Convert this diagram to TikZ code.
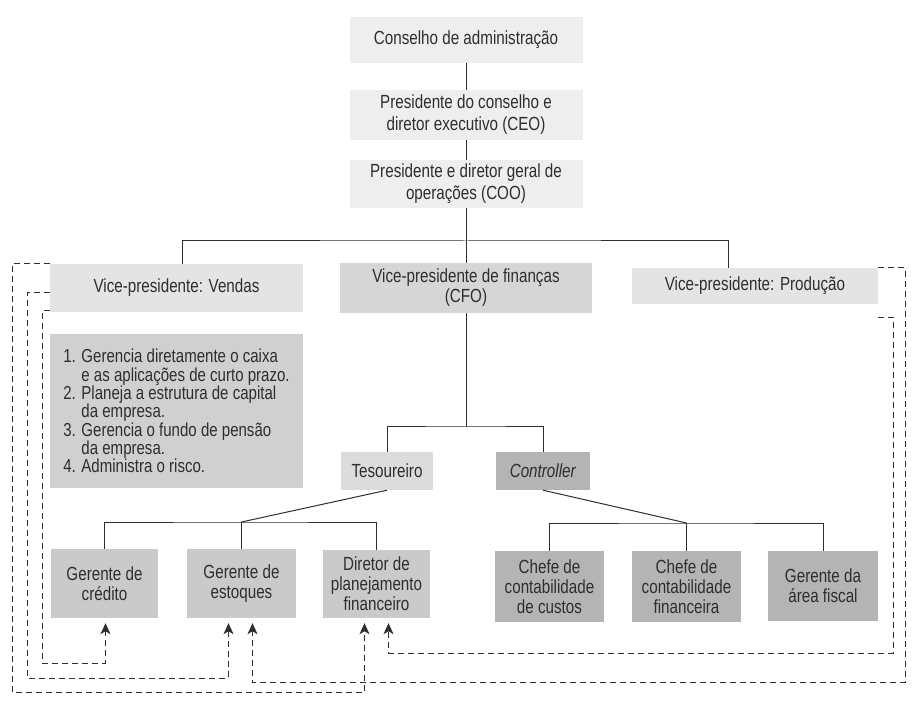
\documentclass[tikz,border=0pt]{standalone}
\usepackage{fontspec}
\setmainfont{Liberation Sans}[FakeStretch=0.8]
\usetikzlibrary{arrows.meta}
\definecolor{ink}{HTML}{2E2E2E}
\definecolor{topgray}{HTML}{EEEEEE}
\definecolor{vpgray}{HTML}{E4E4E4}
\definecolor{cfogray}{HTML}{D6D6D6}
\definecolor{listgray}{HTML}{D0D0D0}
\definecolor{tesgray}{HTML}{DCDCDC}
\definecolor{lowgray}{HTML}{CACACA}
\definecolor{ctrlgray}{HTML}{B4B4B4}
\begin{document}
\begin{tikzpicture}[x=1pt, y=-1pt,
    box/.style={fill=#1, text=ink, align=center, inner sep=0pt, font=\fontsize{19}{20}\selectfont},
    topbox/.style={box=topgray, minimum width=233, font=\fontsize{19}{22}\selectfont},
    link/.style={draw=ink, line width=1pt},
    feed/.style={draw=ink, line width=1pt, dash pattern=on 6pt off 4pt, -{Stealth[length=11pt,width=10pt,inset=3pt]}}]
        \fill[white] (0,0) rectangle (916,708);
        \useasboundingbox (0,0) rectangle (916,708);
        \node[topbox, minimum height=46] (conselho) at (466,40) {Conselho de administração};
        \node[topbox, minimum height=50] (ceo) at (466,115) {Presidente do conselho e\\diretor executivo (CEO)};
        \node[topbox, minimum height=48] (coo) at (466,184) {Presidente e diretor geral de\\operações (COO)};
        \node[box=vpgray, minimum width=253, minimum height=48] (vendas) at (176.5,288) {Vice-presidente: Vendas};
        \node[box=cfogray, minimum width=252, minimum height=50] (cfo) at (466,288) {Vice-presidente de finanças\\(CFO)};
        \node[box=vpgray, minimum width=246, minimum height=36] (producao) at (755,286) {Vice-presidente: Produção};
        \node[box=listgray, minimum width=253, minimum height=154, align=left, font=\fontsize{18.8}{18.3}\selectfont] (tarefas) at (176.5,411)
            {1. Gerencia diretamente o caixa\\\phantom{1. }e as aplicações de curto prazo.\\2. Planeja a estrutura de capital\\\phantom{1. }da empresa.\\3. Gerencia o fundo de pensão\\\phantom{1. }da empresa.\\4. Administra o risco.};
        \node[box=tesgray, minimum width=92, minimum height=38] (tesoureiro) at (387,471) {Tesoureiro};
        \node[box=ctrlgray, minimum width=94, minimum height=38] (controller) at (543,471) {\textit{Controller}};
        \node[box=lowgray, minimum width=107, minimum height=69] (credito) at (104.5,583.5) {Gerente de\\crédito};
        \node[box=lowgray, minimum width=109, minimum height=69] (estoques) at (241.5,583.5) {Gerente de\\estoques};
        \node[box=lowgray, minimum width=107, minimum height=68] (diretor) at (376.5,584) {Diretor de\\planejamento\\financeiro};
        \node[box=ctrlgray, minimum width=109, minimum height=71] (custos) at (549.5,586.5) {Chefe de\\contabilidade\\de custos};
        \node[box=ctrlgray, minimum width=109, minimum height=71] (financeira) at (686.5,586.5) {Chefe de\\contabilidade\\financeira};
        \node[box=ctrlgray, minimum width=110, minimum height=70] (fiscal) at (823,586) {Gerente da\\área fiscal};
        \coordinate (topbar) at (466,241);
        \coordinate (cfobar) at (466,427);
        \coordinate (tesbar) at (241.5,522);
        \coordinate (conbar) at (686.5,523);
        \draw[link] (conselho) -- (ceo);
        \draw[link] (ceo) -- (coo);
        \draw[link] (coo) -- (cfo);
        \draw[link] ([xshift=6pt]vendas.north) |- (topbar) -| ([xshift=-27pt]producao.north);
        \draw[link] (cfo) -- (cfobar);
        \draw[link] (tesoureiro) |- (cfobar) -| (controller);
        \draw[link] (tesoureiro.south) -- (tesbar);
        \draw[link] (credito) |- (tesbar) -| (diretor);
        \draw[link] (estoques) -- (tesbar);
        \draw[link] (controller.south) -- (conbar);
        \draw[link] (custos) |- (conbar) -| (fiscal);
        \draw[link] (financeira) -- (conbar);
        \draw[feed] (vendas.north west) -| (12,692) -| ([xshift=-12pt,yshift=-5pt]diretor.south);
        \draw[feed] ([yshift=-5pt]vendas.west) -| (27,678) -| ([xshift=-13pt,yshift=-5pt]estoques.south);
        \draw[feed] ([yshift=-23pt]vendas.west) -| (42,663) -| ([xshift=1pt,yshift=-5pt]credito.south);
        \draw[feed] (producao.north east) -| (905,682) -| ([xshift=11pt,yshift=-5pt]estoques.south);
        \draw[feed] ([yshift=-13pt]producao.south east) -| (893,653) -| ([xshift=12pt,yshift=-5pt]diretor.south);
    \end{tikzpicture}
\end{document}
